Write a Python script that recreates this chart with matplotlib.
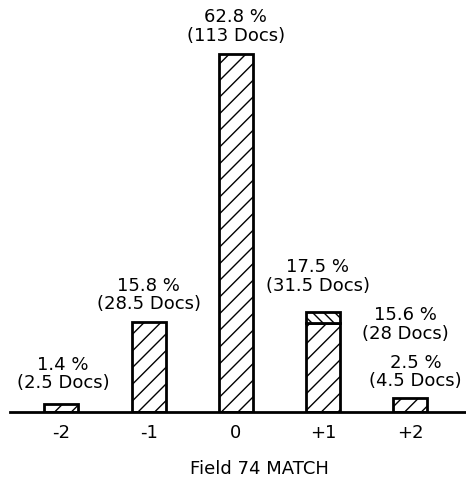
import numpy as np
import matplotlib.pyplot as plt

matchValues = [-2, -1, 0, 1, 2]
tickLabels = ["-2", "-1", "0", "+1", "+2"]
percents = [1.4, 15.8, 62.8, 17.5, 2.5]
docs = [2.5, 28.5, 113, 31.5, 4.5]
# +1 bar is split: lower part and the small cap on top
splitLower = 15.6
splitDocs = 28

plt.rcParams['hatch.linewidth'] = 1.0
fig = plt.figure(figsize=(4.66, 4.85), dpi=100)
ax = fig.add_axes([10 / 466, 72 / 485, 456 / 466, 413 / 485])

x = np.array(matchValues)
heights = list(percents)
heights[3] = splitLower
ax.bar(x, heights, width=0.39, color='white', edgecolor='black', linewidth=2, hatch='//')
ax.bar(x[3], percents[3] - splitLower, bottom=splitLower, width=0.39, color='white',
       edgecolor='black', linewidth=2, hatch='\\\\\\')

fs = 13
# (x offset, gap above bar) for each label
offsets = [(0.02, 2.2), (0, 1.7), (0, 1.8), (-0.06, 3.2), (0.06, 1.5)]
for i, (p, d) in enumerate(zip(percents, docs)):
    dx, dy = offsets[i]
    ax.text(x[i] + dx, p + dy, f"{p} %\n({d} Docs)", ha='center', va='bottom',
            fontsize=fs, linespacing=1.05)
ax.text(x[4] - 0.06, 12.3, f"{splitLower} %\n({splitDocs} Docs)", ha='center', va='bottom',
        fontsize=fs, linespacing=1.05)

ax.set_xlim(-2.59, 2.64)
ax.set_ylim(0, 72.5)
ax.set_xticks(x)
ax.set_xticklabels(tickLabels, fontsize=fs)
ax.tick_params(axis='x', length=0, pad=8)
ax.set_yticks([])
for s in ['top', 'left', 'right']:
    ax.spines[s].set_visible(False)
ax.spines['bottom'].set_linewidth(2)
ax.set_xlabel("Field 74 MATCH", fontsize=fs)
ax.xaxis.set_label_coords(0.546, -0.115)

fig.savefig("out.png", dpi=100)
